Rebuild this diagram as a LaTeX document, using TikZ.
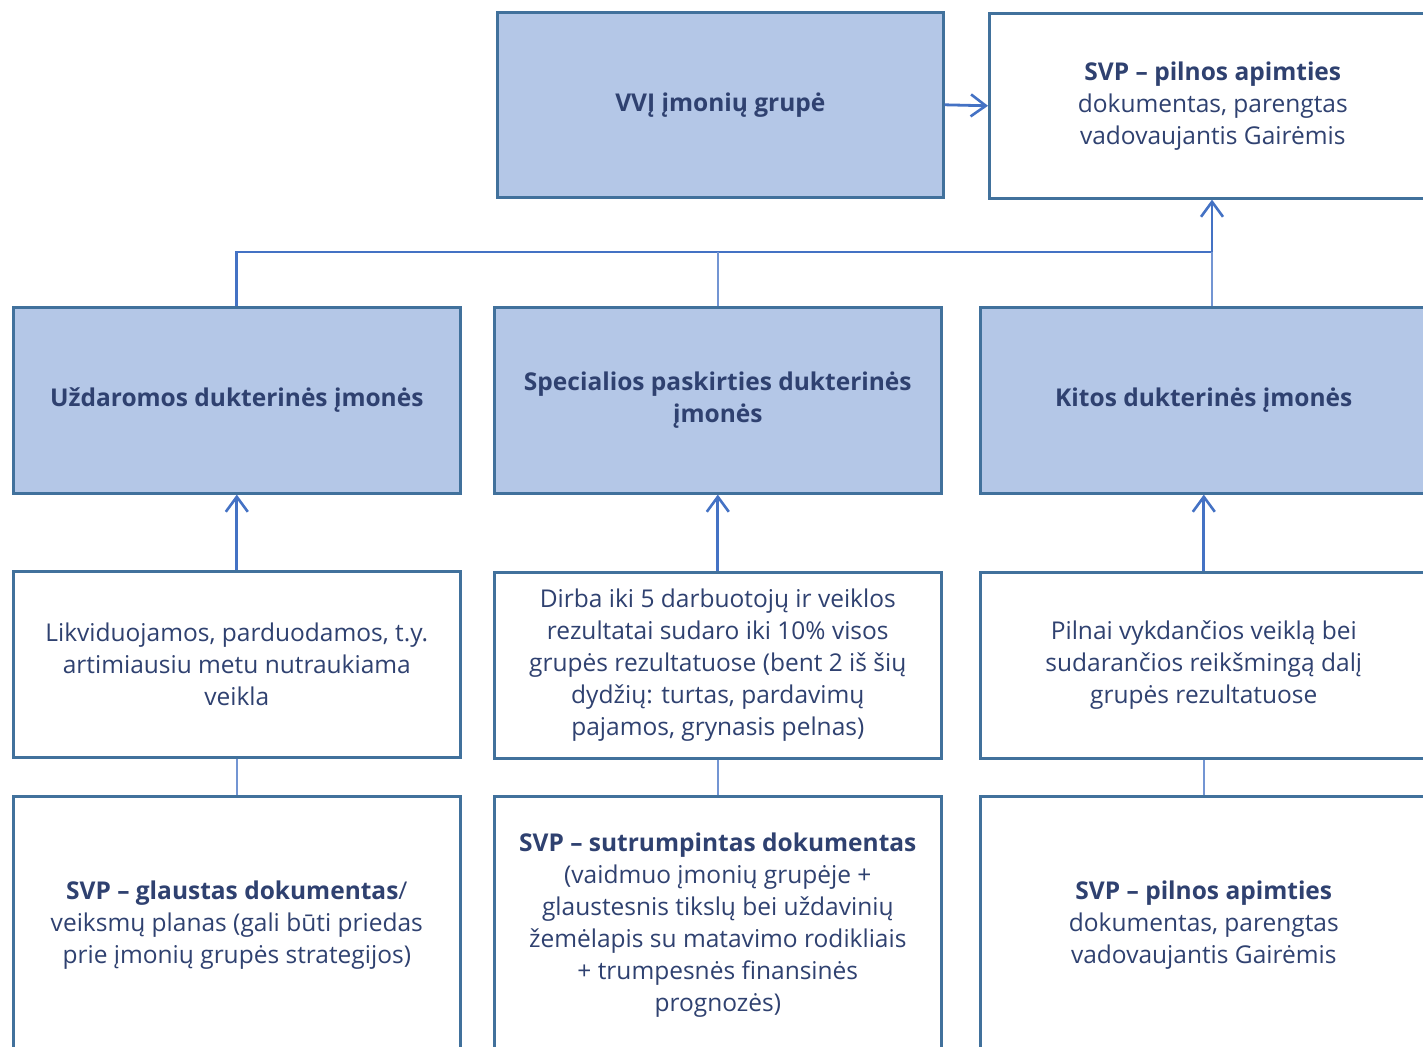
\documentclass[tikz,border=0pt]{standalone}
\usepackage{fontspec}
\setmainfont{Open Sans}
\usetikzlibrary{positioning,arrows.meta}

\definecolor{boxfill}{HTML}{B4C7E7}
\definecolor{boxline}{HTML}{41719C}
\definecolor{linkblue}{HTML}{4472C4}
\definecolor{textblue}{HTML}{2F4170}

\tikzset{
  bluebox/.style={draw=boxline,line width=2.6pt,fill=boxfill,text=textblue,align=center,
    minimum width=447pt,minimum height=186pt,anchor=north west,inner sep=0pt,
    font=\fontsize{24.5}{32}\selectfont\bfseries},
  whitebox/.style={bluebox,fill=white,font=\fontsize{24.5}{32}\selectfont},
  link/.style={draw=linkblue,line width=2.8pt,-{Straight Barb[length=15pt,width=22pt,line width=2.6pt]}},
  plainlink/.style={draw=linkblue,line width=2.8pt},
  thinlink/.style={draw=linkblue!75,line width=1.4pt}
}

\begin{document}
\begin{tikzpicture}[x=1pt,y=-1pt]
\useasboundingbox (0,0) rectangle (1423,1046);
\clip (0,0) rectangle (1423,1046);

% top row
\node[bluebox,minimum width=446pt,minimum height=185pt] (group) at (496,11) {VVĮ įmonių grupė};
\node[whitebox,minimum height=185pt] (full) at (988,12) {\textbf{SVP – pilnos apimties}\\dokumentas, parengtas\\vadovaujantis Gairėmis};

% subsidiaries
\node[bluebox] (closed) at (12,306) {Uždaromos dukterinės įmonės};
\node[bluebox] (special) at (493,306) {Specialios paskirties dukterinės\\įmonės};
\node[bluebox] (other) at (979,306) {Kitos dukterinės įmonės};

% descriptions
\node[whitebox] (closeddesc) at (12,570) {Likviduojamos, parduodamos, t.y.\\artimiausiu metu nutraukiama\\veikla};
\node[whitebox] (specialdesc) at (493,571) {Dirba iki 5 darbuotojų ir veiklos\\rezultatai sudaro iki 10\% visos\\grupės rezultatuose (bent 2 iš šių\\dydžių: turtas, pardavimų\\pajamos, grynasis pelnas)};
\node[whitebox] (otherdesc) at (979,571) {Pilnai vykdančios veiklą bei\\sudarančios reikšmingą dalį\\grupės rezultatuose};

% documents
\node[whitebox,minimum height=258pt] (closeddoc) at (12,795) {\textbf{SVP – glaustas dokumentas}/\\veiksmų planas (gali būti priedas\\prie įmonių grupės strategijos)};
\node[whitebox,minimum height=258pt] (specialdoc) at (493,795) {\textbf{SVP – sutrumpintas dokumentas}\\(vaidmuo įmonių grupėje +\\glaustesnis tikslų bei uždavinių\\žemėlapis su matavimo rodikliais\\+ trumpesnės finansinės\\prognozės)};
\node[whitebox,minimum height=258pt] (otherdoc) at (979,795) {\textbf{SVP – pilnos apimties}\\dokumentas, parengtas\\vadovaujantis Gairėmis};

\coordinate (join) at (1212,252);

\draw[link] (group.east) -- (full.west);
\draw[plainlink] (closed.north) |- (join);
\draw[link] (join) -- (join |- full.south);
\draw[thinlink] (special.north) -- (special.north |- join);
\draw[thinlink] (join) -- (join |- other.north);

\draw[link] (closeddesc.north) -- (closed.south);
\draw[link] (specialdesc.north) -- (special.south);
\draw[link] (otherdesc.north) -- (other.south);

\draw[thinlink] (closeddesc.south) -- (closeddoc.north);
\draw[thinlink] (specialdesc.south) -- (specialdoc.north);
\draw[thinlink] (otherdesc.south) -- (otherdoc.north);

\end{tikzpicture}
\end{document}
